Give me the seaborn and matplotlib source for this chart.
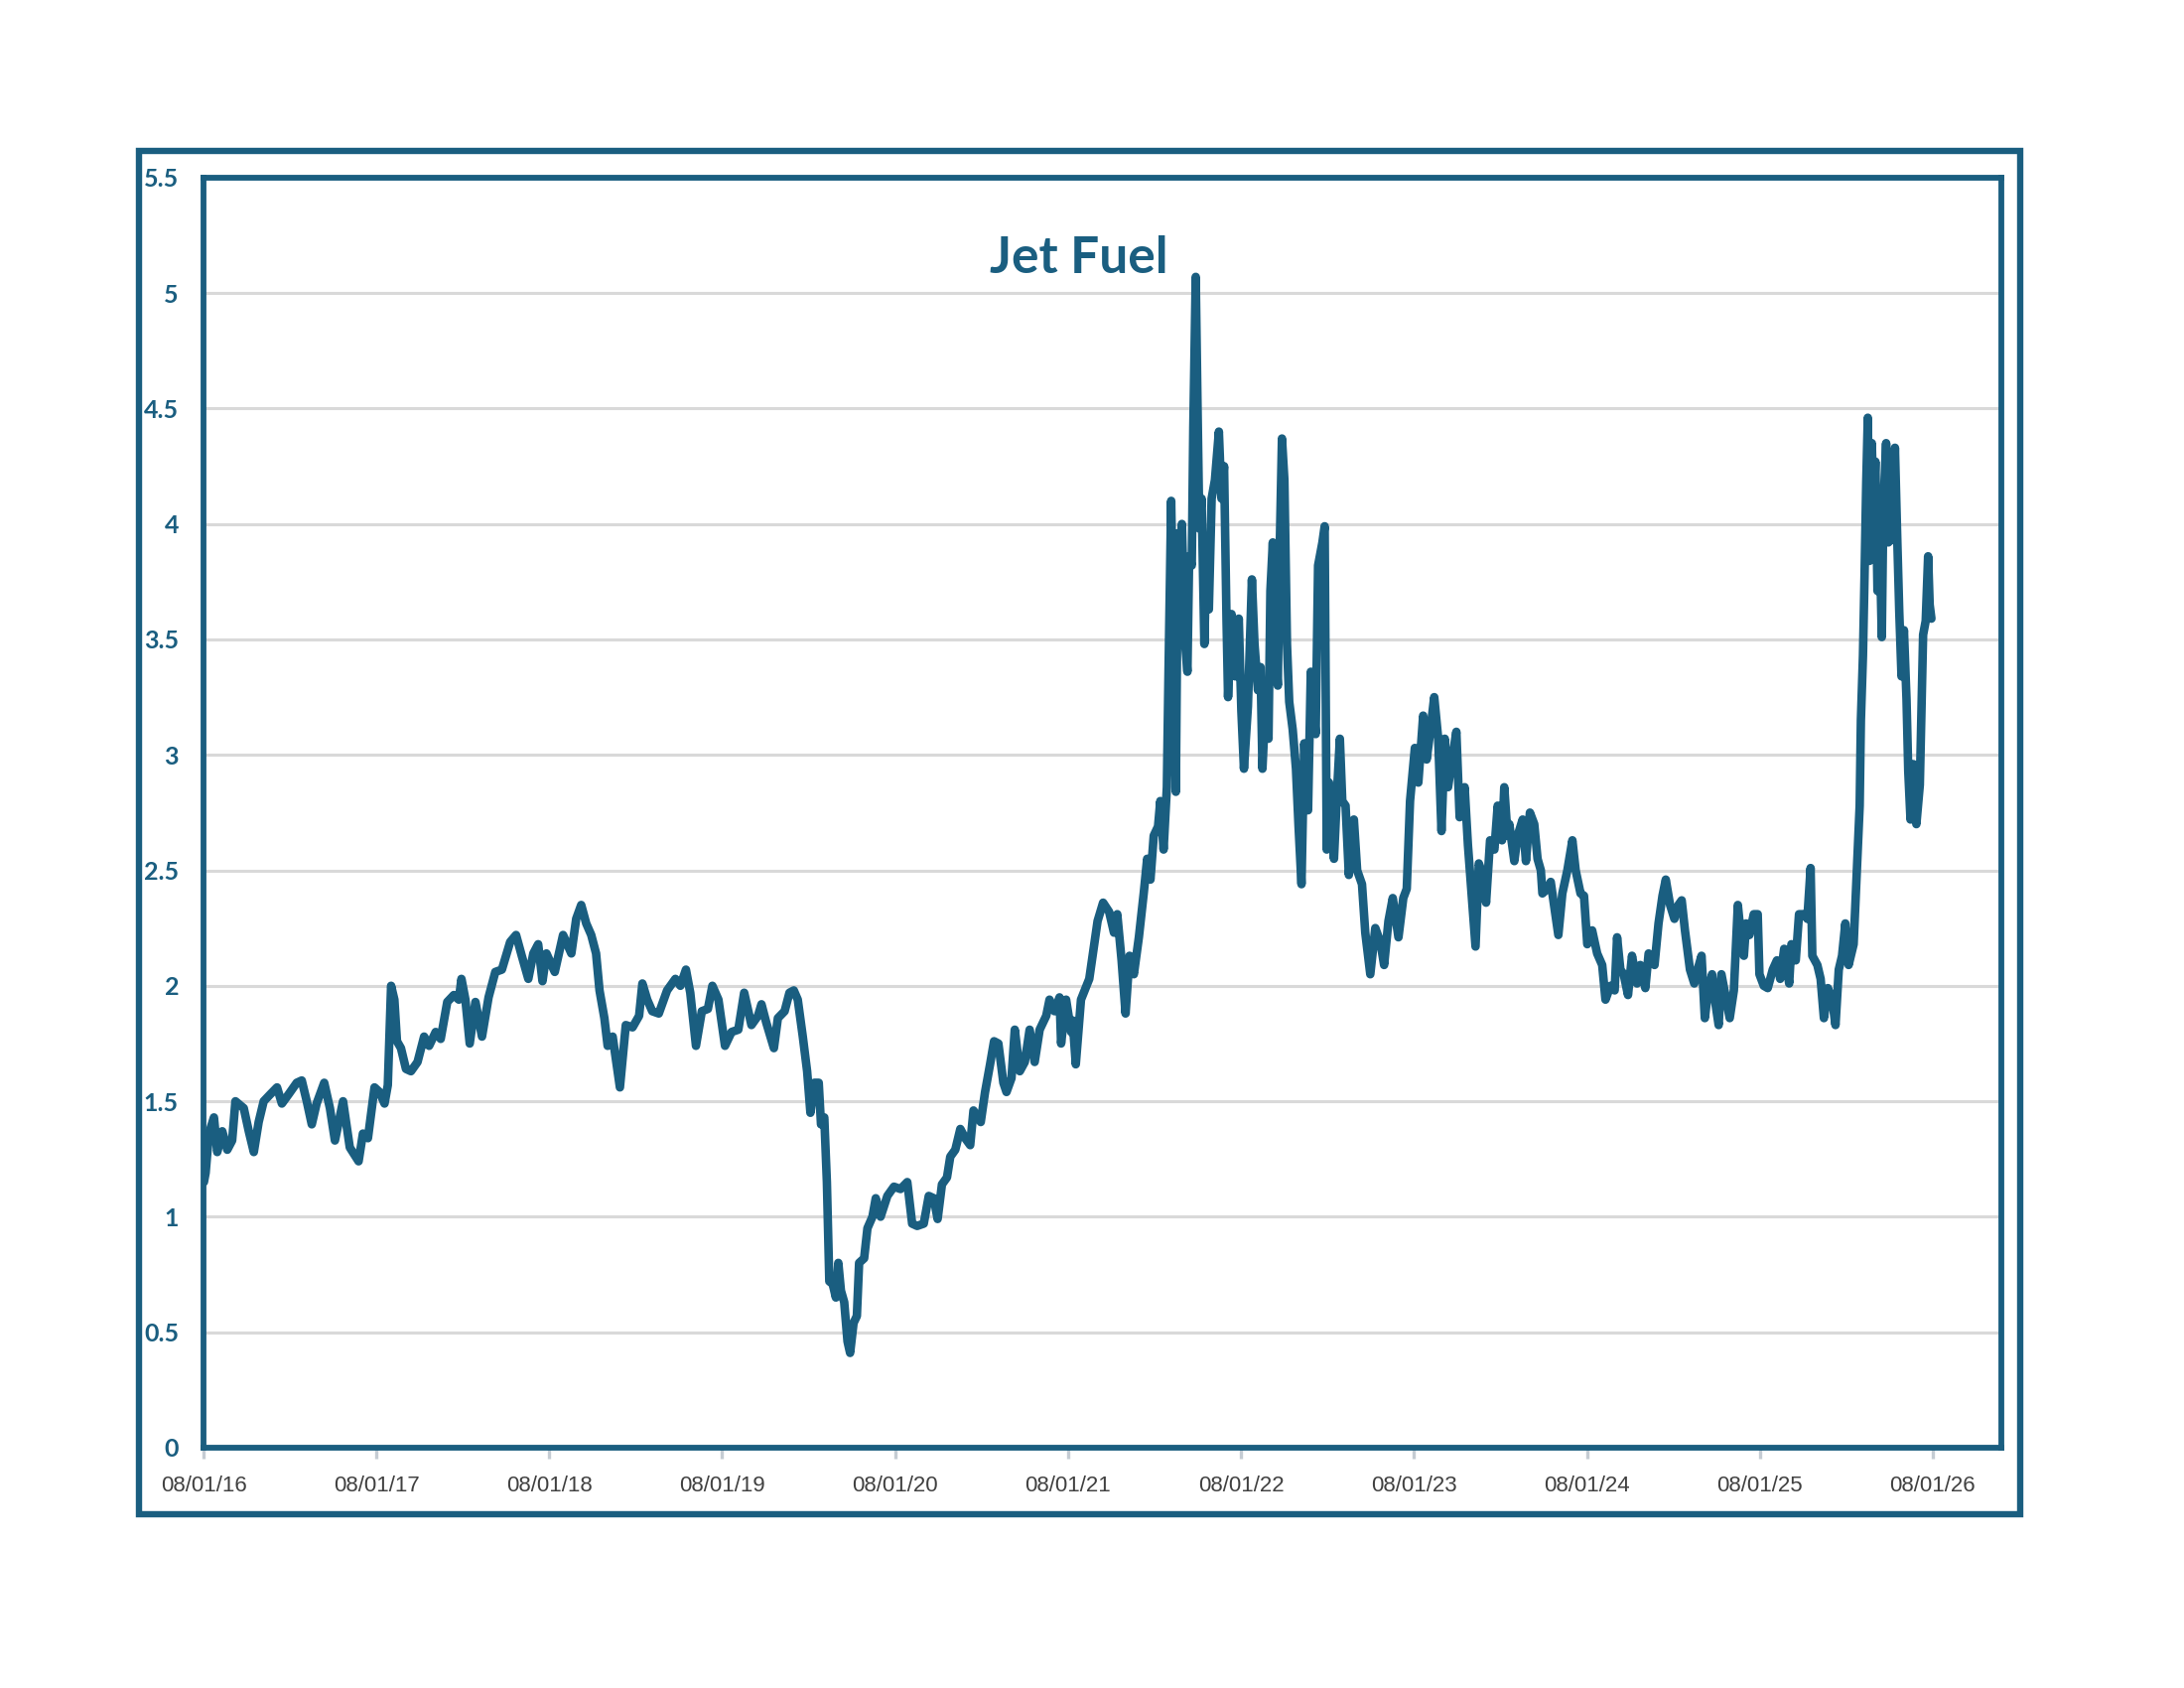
import matplotlib
matplotlib.use("Agg")
import matplotlib.pyplot as plt
from matplotlib.patches import Rectangle
import numpy as np
import pandas as pd
import seaborn as sns

# dates, as decimal years
years = [
    2016.584, 2016.594, 2016.613, 2016.642, 2016.661, 2016.690, 2016.719, 2016.747, 2016.766, 2016.814,
    2016.843, 2016.872, 2016.900, 2016.929, 2016.967, 2017.006, 2017.034, 2017.073, 2017.120, 2017.149,
    2017.178, 2017.207, 2017.235, 2017.279, 2017.312, 2017.341, 2017.388, 2017.427, 2017.478, 2017.503,
    2017.532, 2017.570, 2017.599, 2017.628, 2017.647, 2017.666, 2017.685, 2017.700, 2017.723, 2017.752,
    2017.781, 2017.819, 2017.857, 2017.886, 2017.924, 2017.953, 2017.991, 2018.029, 2018.058, 2018.073,
    2018.096, 2018.121, 2018.154, 2018.192, 2018.230, 2018.269, 2018.307, 2018.355, 2018.389, 2018.422,
    2018.460, 2018.489, 2018.517, 2018.542, 2018.565, 2018.613, 2018.661, 2018.709, 2018.737, 2018.766,
    2018.795, 2018.824, 2018.852, 2018.872, 2018.900, 2018.919, 2018.948, 2018.990, 2019.024, 2019.063,
    2019.101,
    2019.120, 2019.148, 2019.177, 2019.215, 2019.263, 2019.311, 2019.340, 2019.372, 2019.397, 2019.430,
    2019.464, 2019.499, 2019.525, 2019.560, 2019.598, 2019.636, 2019.675, 2019.709, 2019.751, 2019.789,
    2019.809, 2019.837, 2019.881, 2019.904, 2019.943, 2019.971, 2019.996, 2020.019, 2020.048, 2020.073,
    2020.092, 2020.115, 2020.140, 2020.153, 2020.172, 2020.187, 2020.201, 2020.220, 2020.239, 2020.253,
    2020.268, 2020.287, 2020.306, 2020.321, 2020.341, 2020.360, 2020.373, 2020.402, 2020.421, 2020.450,
    2020.469, 2020.497, 2020.536, 2020.574, 2020.612, 2020.651, 2020.679, 2020.708, 2020.746, 2020.775,
    2020.804, 2020.826, 2020.851, 2020.880, 2020.899, 2020.928, 2020.957, 2020.985, 2021.014, 2021.033,
    2021.075, 2021.100, 2021.129, 2021.152, 2021.177, 2021.206, 2021.224, 2021.253, 2021.272, 2021.301,
    2021.330, 2021.358, 2021.387, 2021.416, 2021.454, 2021.473, 2021.502, 2021.531, 2021.540, 2021.569,
    2021.598,
    2021.607, 2021.625, 2021.655, 2021.703, 2021.751, 2021.783, 2021.818, 2021.846, 2021.865, 2021.890,
    2021.913, 2021.936, 2021.961, 2021.990, 2022.018, 2022.038, 2022.057, 2022.076, 2022.101, 2022.114,
    2022.133, 2022.152, 2022.162, 2022.177, 2022.191, 2022.204, 2022.216, 2022.229, 2022.239, 2022.258,
    2022.271, 2022.281, 2022.296, 2022.305, 2022.319, 2022.330, 2022.340, 2022.353, 2022.369, 2022.382,
    2022.395, 2022.411, 2022.430, 2022.453, 2022.468, 2022.483, 2022.497, 2022.506, 2022.526, 2022.548,
    2022.568, 2022.583, 2022.598, 2022.621, 2022.644, 2022.659, 2022.679, 2022.694, 2022.705, 2022.726,
    2022.740, 2022.751, 2022.765, 2022.778, 2022.794, 2022.803, 2022.818, 2022.832, 2022.847, 2022.860,
    2022.880, 2022.899, 2022.914, 2022.931, 2022.947, 2022.969, 2022.985, 2023.013, 2023.027, 2023.052,
    2023.065, 2023.077, 2023.090, 2023.119, 2023.138, 2023.153, 2023.167, 2023.186, 2023.205, 2023.234,
    2023.253, 2023.281, 2023.300, 2023.329, 2023.358, 2023.387, 2023.409, 2023.434, 2023.459, 2023.492,
    2023.520, 2023.540, 2023.559, 2023.587, 2023.607, 2023.635, 2023.655, 2023.674, 2023.699, 2023.722,
    2023.741, 2023.760, 2023.779, 2023.798, 2023.827, 2023.846, 2023.875, 2023.894, 2023.913, 2023.938,
    2023.957, 2023.980, 2023.999, 2024.022, 2024.047, 2024.066, 2024.091, 2024.104, 2024.123,
    2024.133, 2024.162, 2024.181, 2024.210, 2024.229, 2024.252, 2024.277, 2024.296, 2024.315, 2024.324,
    2024.353, 2024.372, 2024.391, 2024.416, 2024.439, 2024.468, 2024.497, 2024.516, 2024.544, 2024.564,
    2024.583, 2024.611, 2024.640, 2024.669, 2024.688, 2024.717, 2024.741, 2024.755, 2024.774, 2024.793,
    2024.818, 2024.841, 2024.870, 2024.889, 2024.918, 2024.937, 2024.971, 2024.994, 2025.017, 2025.036,
    2025.061, 2025.086, 2025.109, 2025.128, 2025.147, 2025.176, 2025.201, 2025.220, 2025.243, 2025.262,
    2025.281, 2025.304, 2025.320, 2025.342, 2025.358, 2025.381, 2025.406, 2025.430, 2025.453, 2025.473,
    2025.488, 2025.501, 2025.520, 2025.545, 2025.568, 2025.578, 2025.603, 2025.626, 2025.655, 2025.679,
    2025.698, 2025.721, 2025.750, 2025.763, 2025.788, 2025.807, 2025.836, 2025.855, 2025.874, 2025.884,
    2025.913, 2025.932, 2025.951, 2025.974, 2025.999, 2026.018, 2026.037, 2026.056, 2026.075, 2026.094,
    2026.123, 2026.142, 2026.158, 2026.165, 2026.177, 2026.186, 2026.196, 2026.205, 2026.215, 2026.228,
    2026.238, 2026.249, 2026.261, 2026.272, 2026.286, 2026.295, 2026.311, 2026.324, 2026.334, 2026.349,
    2026.362, 2026.376, 2026.387, 2026.400, 2026.414, 2026.429, 2026.439, 2026.452, 2026.468, 2026.486,
    2026.506, 2026.515, 2026.525, 2026.540, 2026.554, 2026.563, 2026.573,
]

# jet fuel price, $/gal
price = [
    1.15, 1.19, 1.36, 1.43, 1.28, 1.37, 1.29, 1.33, 1.50, 1.47,
    1.37, 1.28, 1.41, 1.50, 1.53, 1.56, 1.49, 1.53, 1.58, 1.59,
    1.50, 1.40, 1.49, 1.58, 1.47, 1.33, 1.50, 1.30, 1.24, 1.36,
    1.34, 1.56, 1.54, 1.49, 1.57, 2.00, 1.94, 1.76, 1.73, 1.64,
    1.63, 1.67, 1.78, 1.74, 1.80, 1.77, 1.93, 1.96, 1.94, 2.03,
    1.94, 1.75, 1.93, 1.78, 1.95, 2.06, 2.07, 2.19, 2.22, 2.13,
    2.03, 2.14, 2.18, 2.02, 2.14, 2.06, 2.22, 2.14, 2.29, 2.35,
    2.27, 2.22, 2.14, 1.98, 1.86, 1.74, 1.78, 1.56, 1.83, 1.82,
    1.87,
    2.01, 1.94, 1.89, 1.88, 1.98, 2.03, 2.00, 2.07, 1.97, 1.74,
    1.89, 1.90, 2.00, 1.94, 1.74, 1.80, 1.81, 1.97, 1.83, 1.87,
    1.92, 1.84, 1.73, 1.86, 1.89, 1.97, 1.98, 1.94, 1.78, 1.63,
    1.45, 1.58, 1.58, 1.40, 1.43, 1.15, 0.72, 0.71, 0.65, 0.80,
    0.68, 0.63, 0.46, 0.41, 0.54, 0.57, 0.80, 0.82, 0.95, 1.00,
    1.08, 1.00, 1.09, 1.13, 1.12, 1.15, 0.97, 0.96, 0.97, 1.09,
    1.08, 0.99, 1.14, 1.17, 1.26, 1.29, 1.38, 1.34, 1.31, 1.46,
    1.41, 1.54, 1.66, 1.76, 1.75, 1.58, 1.54, 1.60, 1.81, 1.63,
    1.67, 1.81, 1.67, 1.81, 1.87, 1.94, 1.89, 1.95, 1.75, 1.94,
    1.80,
    1.85, 1.66, 1.94, 2.03, 2.28, 2.36, 2.32, 2.23, 2.31, 2.11,
    1.88, 2.13, 2.05, 2.21, 2.40, 2.55, 2.46, 2.65, 2.69, 2.80,
    2.59, 2.86, 3.38, 4.10, 3.48, 2.84, 3.96, 3.57, 4.00, 3.48,
    3.36, 3.86, 3.82, 4.42, 5.07, 4.48, 3.98, 4.11, 3.48, 3.90,
    3.63, 4.11, 4.19, 4.40, 4.11, 4.25, 3.59, 3.25, 3.61, 3.34,
    3.59, 3.19, 2.94, 3.21, 3.76, 3.48, 3.28, 3.38, 2.94, 3.28,
    3.07, 3.71, 3.92, 3.48, 3.30, 3.82, 4.37, 4.19, 3.48, 3.23,
    3.11, 2.94, 2.69, 2.44, 3.05, 2.76, 3.36, 3.09, 3.82, 3.92,
    3.99, 2.59, 2.88, 2.55, 2.86, 3.07, 2.80, 2.78, 2.48, 2.72,
    2.50, 2.44, 2.23, 2.05, 2.25, 2.19, 2.09, 2.28, 2.38, 2.21,
    2.38, 2.42, 2.80, 3.03, 2.88, 3.17, 2.98, 3.09, 3.25, 3.07,
    2.67, 3.07, 2.86, 2.96, 3.10, 2.73, 2.86, 2.61, 2.42, 2.17,
    2.53, 2.48, 2.36, 2.63, 2.59, 2.78, 2.63, 2.86, 2.65,
    2.70, 2.54, 2.65, 2.72, 2.54, 2.75, 2.70, 2.55, 2.50, 2.40,
    2.42, 2.45, 2.35, 2.22, 2.40, 2.50, 2.63, 2.50, 2.40, 2.39,
    2.18, 2.24, 2.14, 2.09, 1.94, 2.00, 1.98, 2.21, 2.07, 2.05,
    1.96, 2.13, 2.01, 2.09, 1.99, 2.14, 2.09, 2.27, 2.39, 2.46,
    2.35, 2.29, 2.35, 2.37, 2.24, 2.07, 2.01, 2.07, 2.13, 1.86,
    1.98, 2.05, 1.94, 1.83, 2.05, 1.96, 1.86, 1.98, 2.35, 2.20,
    2.13, 2.27, 2.22, 2.31, 2.31, 2.05, 2.00, 1.99, 2.07, 2.11,
    2.03, 2.16, 2.01, 2.18, 2.11, 2.31, 2.31, 2.29, 2.51, 2.13,
    2.09, 2.03, 1.86, 1.99, 1.94, 1.83, 2.07, 2.13, 2.27, 2.09,
    2.18, 2.50, 2.78, 3.15, 3.43, 3.77, 4.18, 4.46, 3.84, 4.35,
    4.08, 4.27, 3.71, 3.99, 3.51, 4.07, 4.35, 3.92, 4.27, 3.93,
    4.33, 3.92, 3.62, 3.34, 3.54, 3.24, 2.93, 2.72, 2.96, 2.70,
    2.87, 3.17, 3.52, 3.58, 3.86, 3.65, 3.59,
]

tick_dates = ["2016-08-01", "2017-08-01", "2018-08-01", "2019-08-01", "2020-08-01", "2021-08-01",
              "2022-08-01", "2023-08-01", "2024-08-01", "2025-08-01", "2026-08-01"]
tick_labels = ["08/01/16", "08/01/17", "08/01/18", "08/01/19", "08/01/20", "08/01/21",
               "08/01/22", "08/01/23", "08/01/24", "08/01/25", "08/01/26"]
y_ticks = [0, 0.5, 1, 1.5, 2, 2.5, 3, 3.5, 4, 4.5, 5, 5.5]

BLUE = "#1a5e80"


def to_timestamp(y):
    year = int(y)
    start = pd.Timestamp(year, 1, 1)
    end = pd.Timestamp(year + 1, 1, 1)
    return start + (end - start) * (y - year)


def main():
    sns.set_theme(style="white")
    plt.rcParams["font.family"] = ["Lato", "DejaVu Sans"]

    df = pd.DataFrame({"date": [to_timestamp(y) for y in years], "price": price})

    fig = plt.figure(figsize=(11, 8.5), dpi=200)
    fig.patch.set_facecolor("white")
    ax = fig.add_axes([0.0932, 0.1424, 0.8232, 0.7524])

    sns.lineplot(data=df, x="date", y="price", ax=ax, color=BLUE, linewidth=3.1,
                 estimator=None, sort=False)
    for line in ax.lines:
        line.set_solid_joinstyle("round")
        line.set_solid_capstyle("round")

    ax.set_xlim(pd.Timestamp("2016-08-01"), pd.Timestamp("2026-12-24"))
    ax.set_ylim(0, 5.5)
    ax.set_xlabel("")
    ax.set_ylabel("")

    ax.set_xticks(pd.to_datetime(tick_dates))
    ax.set_xticklabels(tick_labels, family=["Liberation Sans", "DejaVu Sans"], fontsize=8)
    ax.set_yticks(y_ticks)
    ax.set_yticklabels([f"{v:g}" for v in y_ticks], fontsize=9, fontweight="bold")

    ax.tick_params(axis="x", bottom=True, direction="out", length=4, width=1.2,
                   color="#c5ccd3", labelcolor="#404040", pad=6)
    ax.tick_params(axis="y", left=False, length=0, labelcolor=BLUE, pad=9)

    ax.grid(axis="y", color="#d9d9d9", linewidth=1.1)
    ax.grid(axis="x", visible=False)
    ax.set_axisbelow(True)

    for spine in ax.spines.values():
        spine.set_visible(True)
        spine.set_color(BLUE)
        spine.set_linewidth(2.1)

    fig.text(1087 / 2200, 1 - 275 / 1700, "Jet Fuel", ha="center", va="baseline",
             fontsize=18.5, fontweight="bold", color=BLUE, family=["Lato", "DejaVu Sans"])

    # outer border around the whole chart
    fig.add_artist(Rectangle((140 / 2200, 1 - 1525 / 1700), (2035 - 140) / 2200, (1525 - 152) / 1700,
                             transform=fig.transFigure, fill=False, edgecolor=BLUE, linewidth=2.3))

    fig.savefig("out.png", dpi=200, facecolor="white")


if __name__ == "__main__":
    main()
